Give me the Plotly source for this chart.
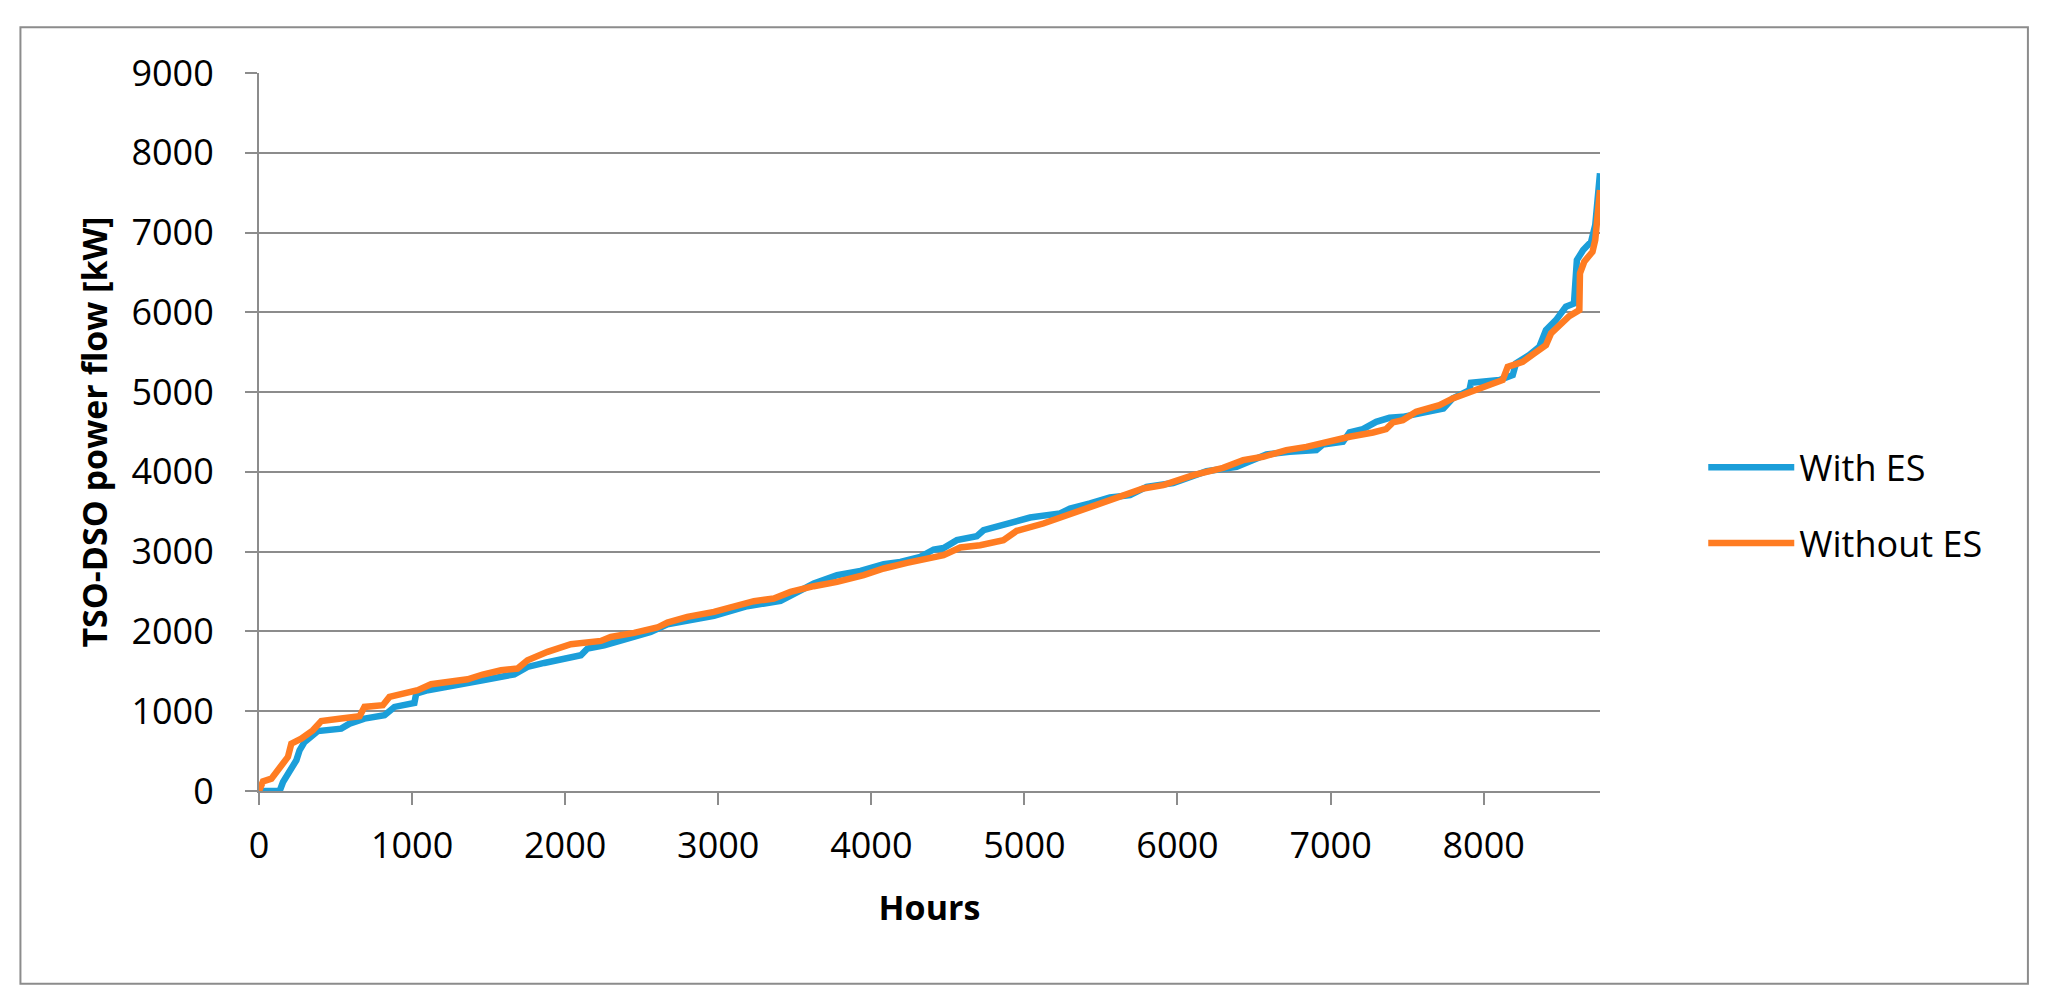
import plotly.graph_objects as go

# ---- data ----
hours_with_es = [0, 135, 157, 189, 244, 265, 298, 385, 537, 592,
                 689, 820, 885, 1015, 1027, 1103, 1233, 1363, 1461, 1668,
                 1754, 1863, 1994, 2103, 2146, 2255, 2385, 2559, 2668, 2820,
                 2972, 3189, 3407, 3624, 3776, 3929, 4081, 4190, 4320, 4407,
                 4472, 4559, 4689, 4733, 4863, 5037, 5233, 5298, 5429, 5559,
                 5690, 5798, 5972, 6190, 6386, 6581, 6733, 6907, 6950, 7081,
                 7124, 7211, 7298, 7385, 7472, 7607, 7737, 7798, 7907, 7917,
                 8103, 8190, 8211, 8298, 8364, 8407, 8472, 8537, 8590, 8609,
                 8650, 8702, 8729, 8760]
flow_with_es = [0, 0, 113, 218, 385, 510, 615, 752, 782, 845,
                908, 949, 1054, 1104, 1221, 1263, 1304, 1338, 1388, 1463,
                1555, 1605, 1660, 1702, 1786, 1827, 1898, 1994, 2090, 2149,
                2195, 2316, 2383, 2601, 2705, 2759, 2843, 2872, 2934, 3027,
                3045, 3144, 3194, 3269, 3345, 3428, 3479, 3541, 3604, 3679,
                3708, 3813, 3860, 4009, 4063, 4219, 4251, 4273, 4344, 4377,
                4494, 4536, 4627, 4678, 4690, 4733, 4795, 4921, 5025, 5117,
                5151, 5213, 5360, 5464, 5568, 5778, 5903, 6070, 6112, 6655,
                6781, 6885, 7094, 7743]

hours_without_es = [0, 26, 81, 135, 189, 211, 276, 352, 407, 537,
                    657, 689, 809, 852, 950, 1037, 1124, 1276, 1363, 1461,
                    1581, 1689, 1754, 1885, 2037, 2233, 2298, 2450, 2602, 2668,
                    2798, 2972, 3081, 3233, 3363, 3472, 3624, 3776, 3950, 4081,
                    4233, 4363, 4472, 4581, 4711, 4863, 4950, 5124, 5276, 5407,
                    5624, 5776, 5907, 5972, 6103, 6298, 6429, 6559, 6711, 6842,
                    6994, 7124, 7277, 7363, 7407, 7472, 7559, 7711, 7798, 7907,
                    8016, 8124, 8157, 8255, 8331, 8407, 8440, 8494, 8559, 8625,
                    8629, 8657, 8711, 8729, 8760]
flow_without_es = [0, 120, 155, 300, 427, 594, 657, 761, 878, 908,
                   937, 1054, 1075, 1179, 1234, 1263, 1338, 1367, 1401, 1460,
                   1514, 1535, 1639, 1744, 1840, 1881, 1931, 1982, 2049, 2112,
                   2182, 2245, 2300, 2379, 2413, 2496, 2567, 2621, 2705, 2789,
                   2859, 2902, 2956, 3052, 3081, 3144, 3261, 3353, 3457, 3541,
                   3708, 3792, 3834, 3878, 3959, 4051, 4147, 4189, 4273, 4314,
                   4386, 4440, 4494, 4536, 4620, 4649, 4753, 4837, 4921, 4991,
                   5066, 5151, 5317, 5380, 5485, 5589, 5736, 5840, 5953, 6028,
                   6489, 6634, 6760, 6906, 7533]

series_names = ["With ES", "Without ES"]
x_ticks = [0, 1000, 2000, 3000, 4000, 5000, 6000, 7000, 8000]
y_ticks = [0, 1000, 2000, 3000, 4000, 5000, 6000, 7000, 8000, 9000]

BLUE = "#1B9ED9"
ORANGE = "#FF7C22"
GRID = "#8C8C8C"
FONT = "Open Sans"

fig = go.Figure()
fig.add_trace(go.Scatter(x=hours_with_es, y=flow_with_es, mode="lines",
                         name=series_names[0], legendgroup="a",
                         line=dict(color=BLUE, width=6.5)))
fig.add_trace(go.Scatter(x=hours_without_es, y=flow_without_es, mode="lines",
                         name=series_names[1], legendgroup="b",
                         line=dict(color=ORANGE, width=6.5)))

axis_common = dict(showline=True, linecolor=GRID, linewidth=2,
                   ticks="outside", ticklen=12, tickwidth=2, tickcolor=GRID,
                   gridcolor=GRID, gridwidth=2,
                   zeroline=False, tickfont=dict(family=FONT, size=36, color="black"))

fig.update_xaxes(range=[0, 8760], tickvals=x_ticks, showgrid=False,
                 title=dict(text="<b>Hours</b>", font=dict(family=FONT, size=34, color="black"),
                            standoff=28),
                 ticklabelstandoff=10, **axis_common)
fig.update_yaxes(range=[0, 9000], tickvals=y_ticks, showgrid=True,
                 title=dict(text="<b>TSO-DSO power flow [kW]</b>",
                            font=dict(family=FONT, size=34, color="black"), standoff=14),
                 ticklabelstandoff=24, **axis_common)

fig.add_shape(type="rect", xref="paper", yref="paper",
              x0=-0.1779, x1=1.3191, y0=-0.2684, y1=1.0637,
              line=dict(color=GRID, width=2), fillcolor="rgba(0,0,0,0)", layer="below")

fig.update_layout(
    width=2039, height=988,
    margin=dict(l=251, r=447, t=65, b=205, autoexpand=False),
    paper_bgcolor="white", plot_bgcolor="white",
    font=dict(family=FONT, size=36, color="black"),
    legend=dict(x=1.077, xanchor="left", y=0.398, yanchor="middle",
                font=dict(family=FONT, size=36, color="black"),
                itemwidth=86, tracegroupgap=26, bgcolor="rgba(0,0,0,0)"),
    showlegend=True,
)

fig.write_html("out.html")
